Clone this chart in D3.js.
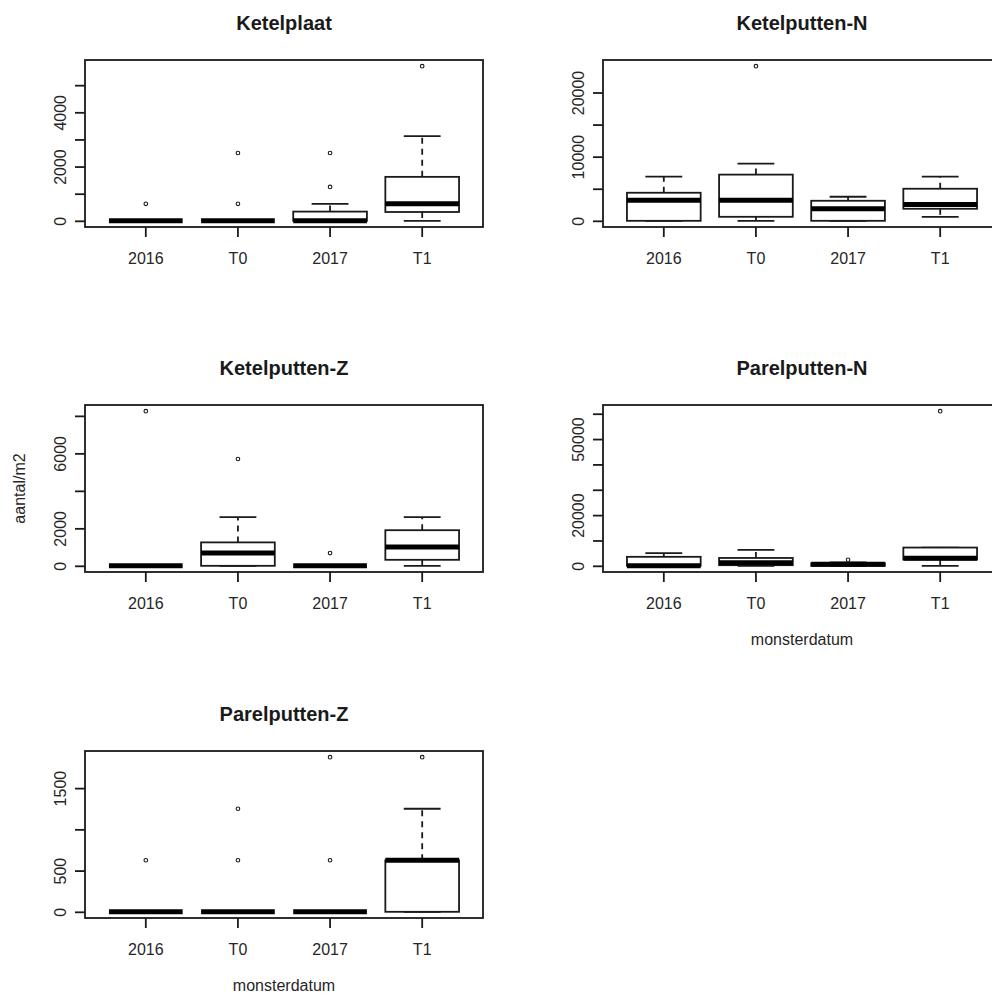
<!DOCTYPE html>
<html>
<head>
<meta charset="utf-8">
<script src="https://cdn.jsdelivr.net/npm/d3@7"></script>
<style>
  html, body { margin: 0; padding: 0; background: #fff; }
  svg { display: block; font-family: "Liberation Sans", Arial, sans-serif; }
</style>
</head>
<body>
<div id="chart"></div>
<script>
/* ---------- data: box stats are [lower whisker, Q1, median, Q3, upper whisker] ---------- */
const categories = ["2016", "T0", "2017", "T1"];
const panelNames = ["Ketelplaat", "Ketelputten-N", "Ketelputten-Z", "Parelputten-N", "Parelputten-Z"];

const ketelplaatStats    = [[0, 0, 0, 0, 0], [0, 0, 0, 0, 0], [0, 0, 0, 340, 625], [0, 325, 625, 1620, 3125]];
const ketelplaatOutliers = [[625], [625, 2500], [1250, 2500], [5700]];
const ketelplaatTicks    = [0, 1000, 2000, 3000, 4000, 5000];
const ketelplaatLabels   = [0, 2000, 4000];

const ketelputtenNStats    = [[0, 0, 3200, 4375, 6900], [0, 625, 3200, 7200, 8900], [0, 0, 1875, 3125, 3750], [625, 1875, 2550, 5000, 6900]];
const ketelputtenNOutliers = [[], [24100], [], []];
const ketelputtenNTicks    = [0, 5000, 10000, 15000, 20000];
const ketelputtenNLabels   = [0, 10000, 20000];

const ketelputtenZStats    = [[0, 0, 0, 0, 0], [0, 0, 680, 1250, 2600], [0, 0, 0, 0, 0], [0, 320, 1000, 1900, 2600]];
const ketelputtenZOutliers = [[8250], [5700], [680], []];
const ketelputtenZTicks    = [0, 2000, 4000, 6000, 8000];
const ketelputtenZLabels   = [0, 2000, 6000];

const parelputtenNStats    = [[0, 0, 0, 3550, 5000], [0, 250, 1250, 3100, 6300], [0, 0, 600, 1000, 1300], [0, 2500, 3000, 7200, 7200]];
const parelputtenNOutliers = [[], [], [2400], [61000]];
const parelputtenNTicks    = [0, 10000, 20000, 30000, 40000, 50000, 60000];
const parelputtenNLabels   = [0, 20000, 50000];

const parelputtenZStats    = [[0, 0, 0, 0, 0], [0, 0, 0, 0, 0], [0, 0, 0, 0, 0], [0, 0, 625, 625, 1250]];
const parelputtenZOutliers = [[625], [625, 1250], [625, 1875], [1875]];
const parelputtenZTicks    = [0, 500, 1000, 1500];
const parelputtenZLabels   = [0, 500, 1500];

const yTitle = "aantal/m2";
const xTitle = "monsterdatum";

/* ---------- layout ---------- */
const W = 992, H = 996;
const colLeft = [85, 603], rowTop = [60, 405, 751];
const PW = 398, PH = 167;
const INK = "#1a1a1a", TXT = "#262626", LW = 1.8;

const panels = [
  { stats: ketelplaatStats,   out: ketelplaatOutliers,   ticks: ketelplaatTicks,   labels: ketelplaatLabels },
  { stats: ketelputtenNStats, out: ketelputtenNOutliers, ticks: ketelputtenNTicks, labels: ketelputtenNLabels },
  { stats: ketelputtenZStats, out: ketelputtenZOutliers, ticks: ketelputtenZTicks, labels: ketelputtenZLabels, ylab: true },
  { stats: parelputtenNStats, out: parelputtenNOutliers, ticks: parelputtenNTicks, labels: parelputtenNLabels, xlab: true },
  { stats: parelputtenZStats, out: parelputtenZOutliers, ticks: parelputtenZTicks, labels: parelputtenZLabels, xlab: true }
].map((p, i) => ({ ...p, name: panelNames[i] }));

const svg = d3.select("#chart").append("svg")
  .attr("width", W).attr("height", H);

panels.forEach((p, i) => {
  const left = colLeft[i % 2], top = rowTop[Math.floor(i / 2)];
  const g = svg.append("g").attr("transform", `translate(${left},${top})`);

  // R style: data range padded by 4% each side
  const vals = p.stats.flat().concat(p.out.flat());
  const lo = d3.min(vals), hi = d3.max(vals), pad = (hi - lo) * 0.04;
  const y = d3.scaleLinear().domain([lo - pad, hi + pad]).range([PH, 0]);
  const x = d3.scaleBand().domain(categories).range([0, PW]).paddingInner(0).paddingOuter(0.16);
  const step = x.step(), cx = c => x(c) + x.bandwidth() / 2;
  const bw = step * 0.8, sw = step * 0.4;

  // title
  svg.append("text")
    .attr("x", left + PW / 2).attr("y", top - 30)
    .attr("text-anchor", "middle")
    .attr("font-size", "20px").attr("font-weight", "bold")
    .attr("fill", INK)
    .text(p.name);

  // y axis
  const ya = g.append("g").call(
    d3.axisLeft(y).tickValues(p.ticks).tickSize(10).tickSizeOuter(0)
      .tickFormat(d => p.labels.includes(d) ? d : "")
  );
  ya.select(".domain").remove();
  ya.selectAll(".tick line").attr("stroke", INK).attr("stroke-width", LW);
  ya.selectAll(".tick text")
    .attr("x", 0).attr("dy", null)
    .attr("text-anchor", "middle")
    .attr("transform", "translate(-19.5,0) rotate(-90)")
    .attr("font-size", "16px").attr("fill", TXT)
    .attr("font-family", "Liberation Sans, Arial, sans-serif");

  // x axis
  const xa = g.append("g").attr("transform", `translate(0,${PH})`).call(
    d3.axisBottom(x).tickSize(10).tickSizeOuter(0)
  );
  xa.select(".domain").remove();
  xa.selectAll(".tick line").attr("stroke", INK).attr("stroke-width", LW);
  xa.selectAll(".tick text")
    .attr("y", 36.5).attr("dy", null)
    .attr("font-size", "16px").attr("fill", TXT)
    .attr("font-family", "Liberation Sans, Arial, sans-serif");

  // boxes
  const box = g.selectAll(".box").data(categories).join("g").attr("class", "box");
  box.append("line") // upper whisker
    .attr("x1", c => cx(c)).attr("x2", c => cx(c))
    .attr("y1", (c, k) => y(p.stats[k][3])).attr("y2", (c, k) => y(p.stats[k][4]))
    .attr("stroke", INK).attr("stroke-width", LW).attr("stroke-dasharray", "6,5");
  box.append("line") // lower whisker
    .attr("x1", c => cx(c)).attr("x2", c => cx(c))
    .attr("y1", (c, k) => y(p.stats[k][1])).attr("y2", (c, k) => y(p.stats[k][0]))
    .attr("stroke", INK).attr("stroke-width", LW).attr("stroke-dasharray", "6,5");
  [0, 4].forEach(j => {
    box.append("line") // staples
      .attr("x1", c => cx(c) - sw / 2).attr("x2", c => cx(c) + sw / 2)
      .attr("y1", (c, k) => y(p.stats[k][j])).attr("y2", (c, k) => y(p.stats[k][j]))
      .attr("stroke", INK).attr("stroke-width", LW);
  });
  box.append("rect")
    .attr("x", c => cx(c) - bw / 2).attr("width", bw)
    .attr("y", (c, k) => y(p.stats[k][3]))
    .attr("height", (c, k) => y(p.stats[k][1]) - y(p.stats[k][3]))
    .attr("fill", "#fff").attr("stroke", INK).attr("stroke-width", LW);
  box.append("line") // median
    .attr("x1", c => cx(c) - bw / 2).attr("x2", c => cx(c) + bw / 2)
    .attr("y1", (c, k) => y(p.stats[k][2])).attr("y2", (c, k) => y(p.stats[k][2]))
    .attr("stroke", "#000").attr("stroke-width", 5);

  // outliers
  const pts = p.out.flatMap((arr, k) => arr.map(v => ({ c: categories[k], v })));
  g.selectAll(".out").data(pts).join("circle")
    .attr("class", "out")
    .attr("cx", d => cx(d.c)).attr("cy", d => y(d.v))
    .attr("r", 1.8)
    .attr("fill", "none").attr("stroke", INK).attr("stroke-width", 1.1);

  // frame
  g.append("rect")
    .attr("x", 0).attr("y", 0).attr("width", PW).attr("height", PH)
    .attr("fill", "none").attr("stroke", INK).attr("stroke-width", LW);

  if (p.ylab) {
    svg.append("text")
      .attr("transform", `translate(25,${top + PH / 2}) rotate(-90)`)
      .attr("text-anchor", "middle")
      .attr("font-size", "16px").attr("fill", TXT)
      .text(yTitle);
  }
  if (p.xlab) {
    svg.append("text")
      .attr("x", left + PW / 2).attr("y", top + PH + 73)
      .attr("text-anchor", "middle")
      .attr("font-size", "16px").attr("fill", TXT)
      .text(xTitle);
  }
});
</script>
</body>
</html>
